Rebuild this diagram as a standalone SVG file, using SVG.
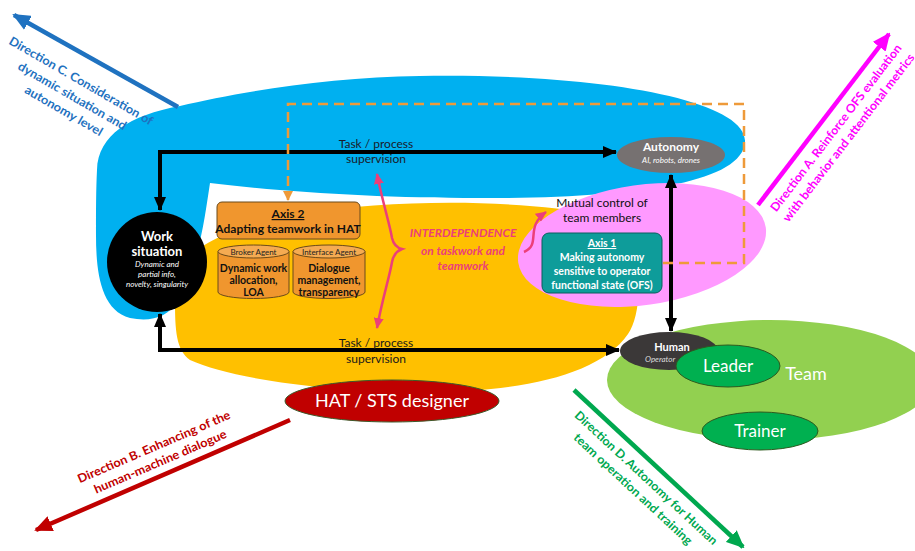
<svg xmlns="http://www.w3.org/2000/svg" width="915" height="551" viewBox="0 0 915 551">
<style>
text{font-family:Lato,"Liberation Sans",sans-serif}
.b{font-weight:bold}
.i{font-style:italic}
.c{text-anchor:middle}
.w{fill:#fff}
.blk{stroke:#000;stroke-width:4;fill:none}
.cyl{fill:#F0962E;stroke:#6b4a1a;stroke-width:1}
</style>
<defs>
<marker id="ak" markerUnits="userSpaceOnUse" markerWidth="14" markerHeight="12" refX="13" refY="6" orient="auto-start-reverse"><path d="M0,0 L14,6 L0,12 z" fill="#000"/></marker>
<marker id="ao" markerUnits="userSpaceOnUse" markerWidth="10" markerHeight="10" refX="9" refY="5" orient="auto"><path d="M0,0 L10,5 L0,10 z" fill="#EE9A3A"/></marker>
<marker id="ap" markerUnits="userSpaceOnUse" markerWidth="11" markerHeight="10" refX="10" refY="5" orient="auto-start-reverse"><path d="M0,0 L11,5 L0,10 z" fill="#EC3F79"/></marker>
<marker id="aC" markerUnits="userSpaceOnUse" markerWidth="18" markerHeight="16" refX="16" refY="8" orient="auto"><path d="M0,0 L18,8 L0,16 z" fill="#1F72C0"/></marker>
<marker id="aA" markerUnits="userSpaceOnUse" markerWidth="18" markerHeight="16" refX="16" refY="8" orient="auto"><path d="M0,0 L18,8 L0,16 z" fill="#FF00FF"/></marker>
<marker id="aB" markerUnits="userSpaceOnUse" markerWidth="18" markerHeight="16" refX="16" refY="8" orient="auto"><path d="M0,0 L18,8 L0,16 z" fill="#C00000"/></marker>
<marker id="aD" markerUnits="userSpaceOnUse" markerWidth="18" markerHeight="16" refX="16" refY="8" orient="auto"><path d="M0,0 L18,8 L0,16 z" fill="#00A84F"/></marker>
</defs>

<g id="backgrounds">
<path id="hat-area" d="M175,300 C175,255 205,232 300,214 C400,198 520,200 600,215 C645,232 645,310 628,334 C600,375 520,392 430,392 C320,392 230,378 190,360 C176,350 175,330 175,300 Z" fill="#FFC000"/>
<path id="autonomy-area" d="M97,170 C98,135 130,115 180,106 C240,92 330,77 420,76 C600,73 748,100 745,142 C742,182 640,197 500,198 C400,199 290,193 210,183 C205,215 200,262 178,300 C168,318 150,322 130,318 C100,310 96,270 96,235 C96,210 96,190 97,170 Z" fill="#00B0F0"/>
<ellipse id="mutual-area" cx="642" cy="245" rx="125" ry="60" transform="rotate(-8 642 245)" fill="#FF99FF"/>
<ellipse id="team-area" cx="770" cy="380" rx="163" ry="60" fill="#92D050"/>
</g>

<g id="connectors">
<path class="blk" d="M160,210 L160,152 L616,152" marker-start="url(#ak)" marker-end="url(#ak)"/>
<path class="blk" d="M160,314 L160,350 L619,350" marker-start="url(#ak)" marker-end="url(#ak)"/>
<path class="blk" d="M671,175 L671,331" marker-start="url(#ak)" marker-end="url(#ak)"/>
<path d="M663,263 L744,263 L744,104 L288,104 L288,200" fill="none" stroke="#EE9A3A" stroke-width="2.5" stroke-dasharray="10 6" marker-end="url(#ao)"/>
<path d="M377,174 C382,200 390,225 392,238 Q394,247 402,249 Q394,252 392,262 C390,275 382,300 377,328" fill="none" stroke="#EC3F79" stroke-width="2.5" marker-start="url(#ap)" marker-end="url(#ap)"/>
<path d="M524,252 C542,244 524,228 546,212" fill="none" stroke="#EC3F79" stroke-width="2.5" marker-end="url(#ap)"/>
<line x1="178" y1="107" x2="14" y2="15" stroke="#1F72C0" stroke-width="4.5" marker-end="url(#aC)"/>
<line x1="758" y1="205" x2="889" y2="34" stroke="#FF00FF" stroke-width="4.5" marker-end="url(#aA)"/>
<line x1="290" y1="420" x2="36" y2="530" stroke="#C00000" stroke-width="4.5" marker-end="url(#aB)"/>
<line x1="574" y1="390" x2="743" y2="547" stroke="#00A84F" stroke-width="4.5" marker-end="url(#aD)"/>
</g>

<g id="labels">
<text class="c" x="376" y="148" font-size="12" fill="#1a1a2a">Task / process</text>
<text class="c" x="376" y="163" font-size="12" fill="#1a1a2a">supervision</text>
<text class="c" x="376" y="347" font-size="12" fill="#1a1a1a">Task / process</text>
<text class="c" x="376" y="363" font-size="12" fill="#1a1a1a">supervision</text>
<text class="c b i" x="463" y="237" font-size="12" fill="#EC3F79">INTERDEPENDENCE</text>
<text class="c b i" x="463" y="255" font-size="12" fill="#EC3F79">on taskwork and</text>
<text class="c b i" x="463" y="270" font-size="12" fill="#EC3F79">teamwork</text>
<text class="c" x="602" y="207" font-size="12" fill="#111">Mutual control of</text>
<text class="c" x="602" y="222" font-size="12" fill="#111">team members</text>
<text class="c" x="806" y="380" font-size="18" fill="#fff">Team</text>
</g>

<g id="direction-c" transform="translate(81,81) rotate(30)" fill="#1F72C0">
<text class="c b" x="0" y="4" font-size="12" textLength="164" lengthAdjust="spacingAndGlyphs">Direction C. Consideration of</text>
<text class="c b" x="0" y="21.5" font-size="12" textLength="123" lengthAdjust="spacingAndGlyphs">dynamic situation and</text>
<text class="c b" x="0" y="38.5" font-size="12" textLength="88" lengthAdjust="spacingAndGlyphs">autonomy level</text>
</g>
<g id="direction-a" transform="translate(836,128) rotate(-52.5)" fill="#FF00FF">
<text class="c b" x="0" y="4" font-size="12" textLength="207" lengthAdjust="spacingAndGlyphs">Direction A. Reinforce OFS evaluation</text>
<text class="c b" x="0" y="20" font-size="12" textLength="208" lengthAdjust="spacingAndGlyphs">with behavior and attentional metrics</text>
</g>
<g id="direction-b" transform="translate(154,447) rotate(-23.3)" fill="#C00000">
<text class="c b" x="0" y="4" font-size="12" textLength="165" lengthAdjust="spacingAndGlyphs">Direction B. Enhancing of the</text>
<text class="c b" x="0" y="20" font-size="12" textLength="143" lengthAdjust="spacingAndGlyphs">human-machine  dialogue</text>
</g>
<g id="direction-d" transform="translate(646,478) rotate(42.9)" fill="#00A84F">
<text class="c b" x="0" y="4" font-size="12" textLength="190" lengthAdjust="spacingAndGlyphs">Direction D. Autonomy for Human</text>
<text class="c b" x="-2" y="21" font-size="12" textLength="157" lengthAdjust="spacingAndGlyphs">team operation and training</text>
</g>

<g id="work-situation">
<circle cx="157" cy="262" r="50" fill="#000"/>
<text class="c b w" x="157" y="241" font-size="13">Work</text>
<text class="c b w" x="157" y="256" font-size="13">situation</text>
<text class="c i w" x="157" y="267" font-size="8">Dynamic and</text>
<text class="c i w" x="157" y="277" font-size="8">partial info,</text>
<text class="c i w" x="157" y="287" font-size="8">novelty, singularity</text>
</g>

<g id="autonomy">
<ellipse cx="671" cy="155" rx="54" ry="18" fill="#767171"/>
<text class="c b w" x="671" y="151" font-size="12">Autonomy</text>
<text class="c i w" x="671" y="163" font-size="8">AI, robots, drones</text>
</g>

<g id="axis2">
<rect x="217" y="202" width="143" height="37" rx="5" fill="#F0962E" stroke="#6b4a1a" stroke-width="1"/>
<text class="c b" x="288" y="218" font-size="12" fill="#111" text-decoration="underline">Axis 2</text>
<text class="c b" x="288" y="233" font-size="12" fill="#111">Adapting teamwork in HAT</text>
</g>

<g id="broker-agent">
<path class="cyl" d="M218,251.5 L218,292 A35.5,6.5 0 0 0 289,292 L289,251.5"/>
<ellipse cx="253.5" cy="251.5" rx="35.5" ry="6.5" fill="#F5AB52" stroke="#6b4a1a" stroke-width="1"/>
<text class="c" x="253.5" y="254.5" font-size="8" fill="#222">Broker Agent</text>
<text class="c b" x="253.5" y="272" font-size="10.5" fill="#111">Dynamic work</text>
<text class="c b" x="253.5" y="284" font-size="10.5" fill="#111">allocation,</text>
<text class="c b" x="253.5" y="296" font-size="10.5" fill="#111">LOA</text>
</g>

<g id="interface-agent">
<path class="cyl" d="M293,251.5 L293,292 A36,6.5 0 0 0 365,292 L365,251.5"/>
<ellipse cx="329" cy="251.5" rx="36" ry="6.5" fill="#F5AB52" stroke="#6b4a1a" stroke-width="1"/>
<text class="c" x="329" y="254.5" font-size="8" fill="#222">Interface Agent</text>
<text class="c b" x="329" y="272" font-size="10.5" fill="#111">Dialogue</text>
<text class="c b" x="329" y="284" font-size="10.5" fill="#111">management,</text>
<text class="c b" x="329" y="296" font-size="10.5" fill="#111">transparency</text>
</g>

<g id="axis1">
<rect x="542" y="233" width="120" height="60" rx="7" fill="#0E9C9A" stroke="#0a5f5e" stroke-width="1"/>
<text class="c b w" x="602" y="247" font-size="10.5" text-decoration="underline">Axis 1</text>
<text class="c b w" x="602" y="261" font-size="10.5">Making autonomy</text>
<text class="c b w" x="602" y="275" font-size="10.5">sensitive to operator</text>
<text class="c b w" x="602" y="289" font-size="10.5">functional state (OFS)</text>
</g>

<g id="human">
<ellipse cx="669" cy="351" rx="49" ry="19" fill="#3B3838"/>
<text class="c b w" x="672" y="351" font-size="11">Human</text>
<text class="i" x="645" y="362" font-size="8" fill="#ddd">Operator</text>
</g>

<g id="leader">
<ellipse cx="728" cy="366" rx="52" ry="21" fill="#00B050" stroke="#2d5a1e" stroke-width="1"/>
<text class="c w" x="728" y="372" font-size="17">Leader</text>
</g>

<g id="trainer">
<ellipse cx="760" cy="431" rx="58" ry="19" fill="#00B050" stroke="#2d5a1e" stroke-width="1"/>
<text class="c w" x="760" y="437" font-size="17">Trainer</text>
</g>

<g id="hat-designer">
<ellipse cx="392" cy="401" rx="107" ry="21" fill="#C00000" stroke="#3c5a2a" stroke-width="1"/>
<text class="c w" x="392" y="407" font-size="18">HAT / STS designer</text>
</g>
</svg>
